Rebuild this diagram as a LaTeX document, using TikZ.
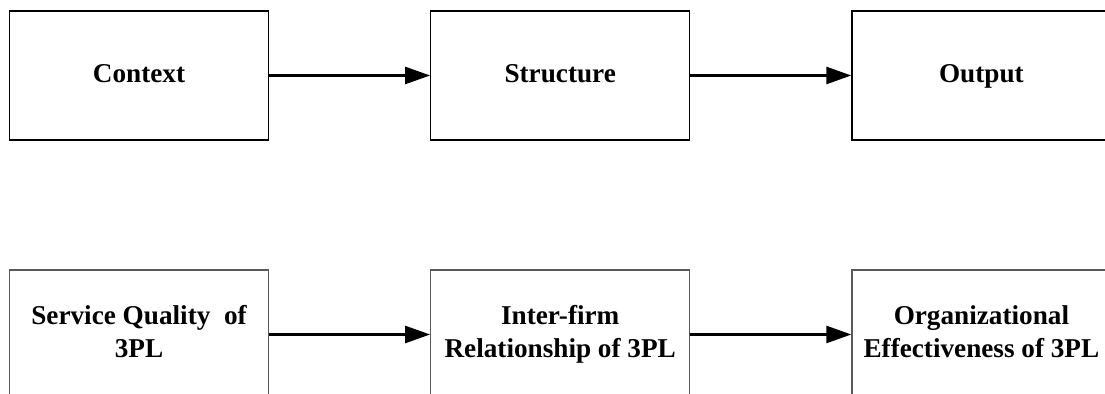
\documentclass[tikz,border=0pt]{standalone}
\usepackage{fontspec}
\setmainfont{Liberation Serif}
\usetikzlibrary{arrows.meta,positioning}

\begin{document}
\begin{tikzpicture}[
    box/.style={draw,line width=0.6pt,minimum width=129.5pt,minimum height=64.5pt,inner sep=0pt,
      align=center,font=\fontsize{13.6}{16.5}\selectfont\bfseries},
    lowbox/.style={box,draw=black!65},
    flow/.style={-{Triangle[length=12.5pt,width=8.5pt]},line width=1.3pt},
    node distance=80.5pt]
  \clip (0,0) rectangle (552.5pt,197pt);
  % model row
  \node[box] (ctx) at (69.5pt,159.25pt) {\strut Context};
  \node[box,right=of ctx] (struct) {\strut Structure};
  \node[box,right=of struct] (out) {\strut Output};
  \draw[flow] (ctx) -- (struct);
  \draw[flow] (struct) -- (out);
  % 3PL row
  \node[lowbox] (sq) at (69.5pt,29.75pt) {\strut Service Quality\ \ of\\\strut 3PL};
  \node[lowbox,right=of sq] (ifr) {\strut Inter-firm\\\strut Relationship of 3PL};
  \node[lowbox,right=of ifr] (oe) {\strut Organizational\\\strut Effectiveness of 3PL};
  \draw[flow] (sq) -- (ifr);
  \draw[flow] (ifr) -- (oe);
\end{tikzpicture}
\end{document}
